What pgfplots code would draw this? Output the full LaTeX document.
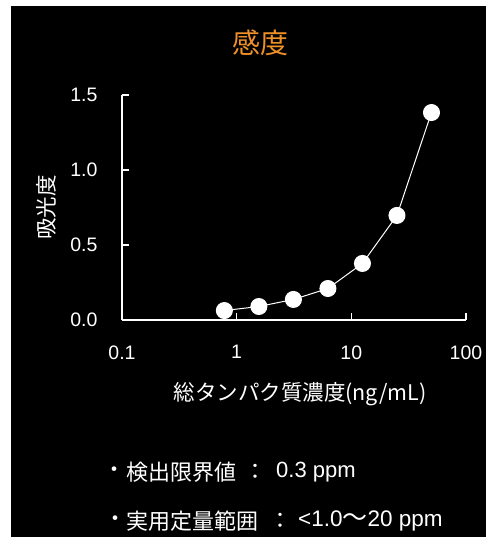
\documentclass[border=0pt]{standalone}
\usepackage{fontspec}
\setmainfont{Liberation Sans}
\newfontfamily\cjk{Noto Sans CJK JP}
\usepackage{pgfplots}
\pgfplotsset{compat=1.18}
\definecolor{ttl}{RGB}{240,145,40}

\begin{document}
\begin{tikzpicture}[x=1pt,y=1pt]
\fill[white] (0,0) rectangle (486,537);
\fill[black] (11,0) rectangle (486,531);
\path[use as bounding box] (0,0) rectangle (486,537);

\node[text=ttl,font=\cjk\fontsize{28}{30}\selectfont] at (260,494) {感度};

\begin{axis}[
    at={(122pt,217pt)}, anchor=south west,
    scale only axis,
    width=344pt, height=225pt,
    xmode=log,
    xmin=0.1, xmax=100,
    ymin=0, ymax=1.5,
    axis x line=bottom, axis y line=left,
    axis line style={-, white, line width=1.6pt},
    tick style={white, line width=1.6pt},
    tick align=inside,
    major tick length=7pt,
    xminorticks=false,
    xtick={0.1,1,10,100},
    xticklabels={0.1,1,10,100},
    ytick={0,0.5,1,1.5},
    yticklabels={0.0,0.5,1.0,1.5},
    ticklabel style={text=white, font=\fontsize{19.5}{22}\selectfont},
    xticklabel style={yshift=-22pt},
    yticklabel style={xshift=-21pt},
    /pgf/number format/assume math mode=true,
    clip=false,
]
\addplot[white, line width=1pt, mark=*, mark size=8pt,
    mark options={fill=white, draw=white}] coordinates {
    (0.78125,0.063)(1.5625,0.09)(3.125,0.137)(6.25,0.21)(12.5,0.377)(25,0.697)(50,1.383)
};
\end{axis}

\node[text=white, rotate=90, font=\cjk\fontsize{21.5}{23}\selectfont] at (46,329.5) {吸光度};
\node[text=white, font=\cjk\fontsize{21.5}{23}\selectfont] at (300,143) {総タンパク質濃度(ng/mL)};

% notes
\begin{scope}[every node/.style={text=white, inner sep=0pt}]
\node[font=\cjk\fontsize{22}{24}\selectfont] at (114.5,65) {・};
\node[anchor=west, font=\cjk\fontsize{22}{24}\selectfont] at (126.5,65) {検出限界値};
\node[font=\cjk\fontsize{22}{24}\selectfont] at (255,65) {：};
\node[anchor=west, font=\fontsize{22}{24}\selectfont] at (276,65) {0.3 ppm};
\node[font=\cjk\fontsize{22}{24}\selectfont] at (115.5,16) {・};
\node[anchor=west, font=\cjk\fontsize{22}{24}\selectfont] at (126.5,16) {実用定量範囲};
\node[font=\cjk\fontsize{22}{24}\selectfont] at (280.5,16) {：};
\node[anchor=west, font=\fontsize{22.5}{24}\selectfont] at (298,16) {<1.0{\cjk\fontsize{25}{26}\selectfont ～}20 ppm};
\end{scope}
\end{tikzpicture}
\end{document}
